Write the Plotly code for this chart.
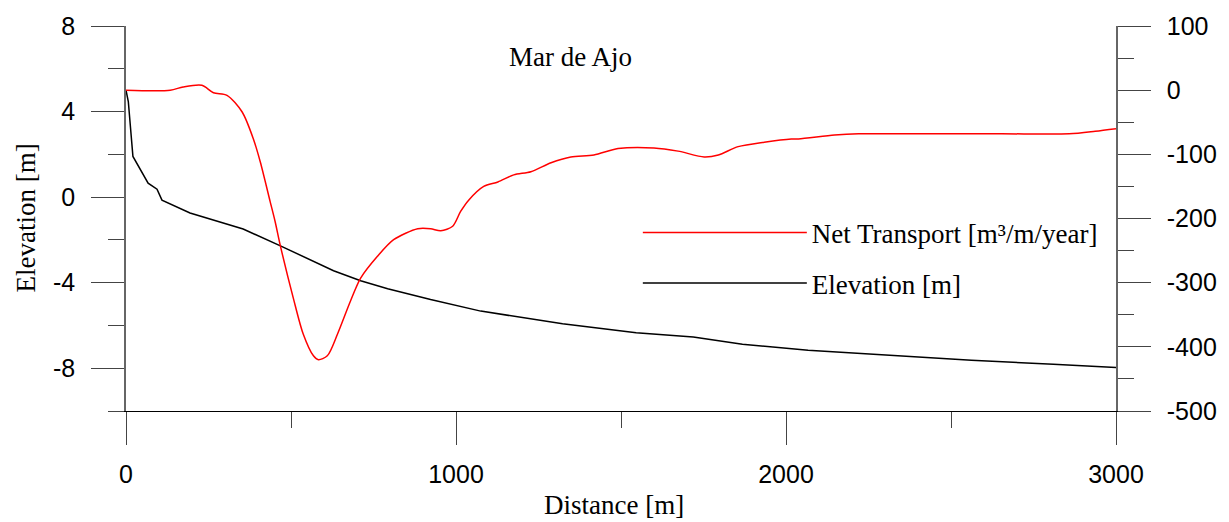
import plotly.graph_objects as go

# ---- data ----
distance_transport = [0, 134, 173, 230, 265, 306, 352, 386, 407, 437, 452, 468, 507, 537, 568, 583, 610,
                      641, 680, 711, 762, 811, 884, 923, 954, 990, 1014, 1039, 1084, 1127, 1175, 1227,
                      1288, 1348, 1418, 1491, 1600, 1673, 1752, 1795, 1855, 1934, 2016, 2038, 2147,
                      2220, 2350, 2654, 2858, 2937, 3000]
net_transport = [0, 0, 5, 7.5, -4, -8, -34, -76, -112, -174, -205, -243, -324, -380, -414, -420, -414,
                 -380, -329, -293, -259, -233, -216, -216, -219, -212, -189, -171, -150, -143, -132, -127,
                 -113, -104, -101, -91, -90, -95, -104, -101, -88, -81, -76, -76, -70,
                 -68, -68, -68, -68, -64, -60]

distance_elev = [0, 7, 21, 67, 94, 109, 194, 355, 468, 629, 711, 793, 923, 1075, 1323, 1546, 1719,
                 1868, 2067, 2315, 2562, 2810, 3000]
elevation = [5.0, 4.47, 1.9, 0.65, 0.37, -0.14, -0.74, -1.49, -2.28, -3.44, -3.91, -4.28, -4.79,
             -5.33, -5.92, -6.34, -6.54, -6.88, -7.16, -7.40, -7.63, -7.81, -7.97]

y_tickvals = [-8, -4, 0, 4, 8]
y_ticktext = ["-8", "-4", "0", "4", "8"]
y2_tickvals = [-500, -400, -300, -200, -100, 0, 100]
y2_ticktext = ["-500", "-400", "-300", "-200", "-100", "0", "100"]

chart_title = "Mar de Ajo"
x_title = "Distance [m]"
y_title = "Elevation [m]"
name_transport = "Net Transport [m³/m/year]"
name_elev = "Elevation [m]"

SANS = "Liberation Sans, Arial, sans-serif"
SERIF = "Liberation Serif, Times New Roman, serif"

fig = go.Figure()
fig.add_trace(go.Scatter(x=distance_transport, y=net_transport, mode="lines", name=name_transport,
                         line=dict(color="#ff0000", width=1.5, shape="spline", smoothing=0.8),
                         yaxis="y2", legend="legend"))
fig.add_trace(go.Scatter(x=distance_elev, y=elevation, mode="lines", name=name_elev,
                         line=dict(color="#000000", width=1.5), yaxis="y", legend="legend2"))

legend_common = dict(font=dict(family=SERIF, size=27, color="black"), bgcolor="rgba(0,0,0,0)",
                     itemwidth=164, xanchor="left", yanchor="middle", borderwidth=0)

fig.update_layout(
    width=1229, height=522, autosize=False,
    margin=dict(l=126, r=108, t=24, b=111, pad=0),
    paper_bgcolor="white", plot_bgcolor="white",
    showlegend=True,
    legend=dict(x=0.517, y=0.4625, **legend_common),
    legend2=dict(x=0.517, y=0.331, **legend_common),
    xaxis=dict(range=[0, 3000], dtick=1000, tick0=0, showgrid=False, zeroline=False,
               showline=True, linecolor="black", linewidth=1,
               ticks="outside", ticklen=33, tickcolor="#444", tickwidth=1,
               minor=dict(ticks="outside", ticklen=16, dtick=500, tick0=0, tickcolor="#444", showgrid=False),
               tickfont=dict(family=SANS, size=25, color="black"), ticklabelstandoff=8),
    yaxis=dict(range=[-10, 8], tickmode="array", tickvals=y_tickvals, ticktext=y_ticktext,
               showgrid=False, zeroline=False,
               showline=True, linecolor="#666", linewidth=1.5,
               ticks="outside", ticklen=33, tickcolor="#444", tickwidth=1,
               minor=dict(ticks="outside", ticklen=16, dtick=2, tick0=0, tickcolor="#444", showgrid=False),
               tickfont=dict(family=SANS, size=25, color="black"), ticklabelstandoff=11),
    yaxis2=dict(range=[-500, 100], tickmode="array", tickvals=y2_tickvals, ticktext=y2_ticktext,
                overlaying="y", side="right", showgrid=False, zeroline=False,
                showline=True, linecolor="#666", linewidth=1.5,
                ticks="outside", ticklen=33, tickcolor="#444", tickwidth=1,
                minor=dict(ticks="outside", ticklen=16, dtick=50, tick0=0, tickcolor="#444", showgrid=False),
                tickfont=dict(family=SANS, size=25, color="black"), ticklabelstandoff=11),
    annotations=[
        dict(text=chart_title, x=0.449, y=0.92, xref="paper", yref="paper", showarrow=False,
             xanchor="center", yanchor="middle", font=dict(family=SERIF, size=27, color="black")),
        dict(text=x_title, x=0.493, y=-0.245, xref="paper", yref="paper", showarrow=False,
             xanchor="center", yanchor="middle", font=dict(family=SERIF, size=27, color="black")),
        dict(text=y_title, x=-0.102, y=0.5, xref="paper", yref="paper", showarrow=False, textangle=-90,
             xanchor="center", yanchor="middle", font=dict(family=SERIF, size=27, color="black")),
    ],
)

fig.write_html("out.html")
